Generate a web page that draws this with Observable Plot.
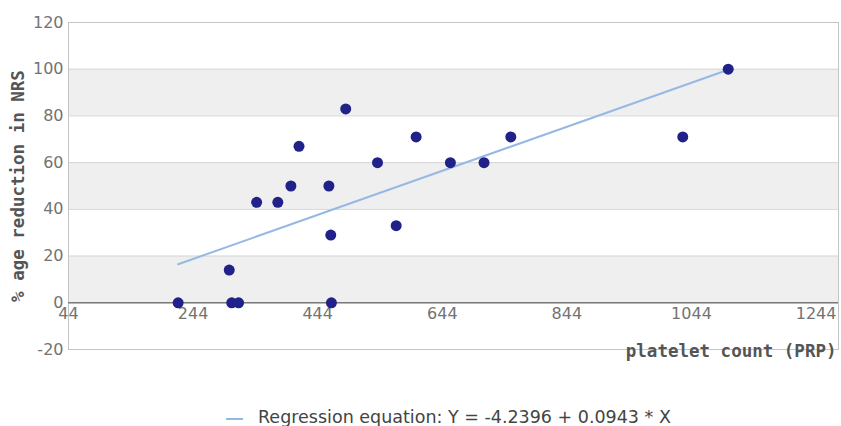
<!DOCTYPE html>
<html>
<head>
<meta charset="utf-8">
<script src="https://cdn.jsdelivr.net/npm/d3@7"></script>
<script src="https://cdn.jsdelivr.net/npm/@observablehq/plot@0.6"></script>
<style>
  html, body { margin: 0; padding: 0; background: #fff; }
  #chart svg { display: block; }
  #legend { height: 46px; box-sizing: border-box; padding-top: 27px; padding-left: 226px;
    font-family: "DejaVu Sans", sans-serif; font-size: 17.5px; color: #444; line-height: 20px; white-space: nowrap; }
  #legend .sw { display: inline-block; width: 17px; height: 2px; background: #96b9e4; vertical-align: middle; margin-right: 15px; position: relative; top: 1px; }
</style>
</head>
<body>
<div id="chart"></div>
<div id="legend"><span class="sw"></span><span id="legend-text"></span></div>
<script>
// Data
const plateletCount = [220, 302, 306, 317, 346, 380, 401, 414, 462, 465, 466, 489, 540, 570, 602, 657, 711, 754, 1030, 1103];
const nrsReduction  = [0, 14, 0, 0, 43, 43, 50, 67, 50, 29, 0, 83, 60, 33, 71, 60, 60, 71, 71, 100];
const intercept = -4.2396;
const slope = 0.0943;
const xTicks = [44, 244, 444, 644, 844, 1044, 1244];
const yTicks = [-20, 0, 20, 40, 60, 80, 100, 120];
const bandLow = [80, 40, 0];
const bandHigh = [100, 60, 20];
const xDomain = [44, 1280];
const yDomain = [-20, 120];
const xTitle = "platelet count (PRP)";
const yTitle = "% age reduction in NRS";
const legendLabel = "Regression equation: Y = -4.2396 + 0.0943 * X";

const points = plateletCount.map((x, i) => ({x, y: nrsReduction[i]}));
const xr = [d3.min(plateletCount), d3.max(plateletCount)];
const regLine = xr.map(x => ({x, y: intercept + slope * x}));
const bands = bandLow.map((lo, i) => ({y1: lo, y2: bandHigh[i], x1: xDomain[0], x2: xDomain[1]}));

const chart = Plot.plot({
  width: 841,
  height: 380,
  marginLeft: 68,
  marginRight: 3,
  marginTop: 22,
  marginBottom: 31,
  x: {domain: xDomain, axis: null},
  y: {domain: yDomain},
  style: {fontFamily: "DejaVu Sans, sans-serif", background: "white"},
  marks: [
    Plot.rect(bands, {x1: "x1", x2: "x2", y1: "y1", y2: "y2", fill: "#efefef"}),
    Plot.gridY(yTicks, {stroke: "#d6d6d6", strokeOpacity: 1}),
    Plot.frame({stroke: "#c4c4c4"}),
    Plot.ruleY([0], {stroke: "#7a7a7a", strokeWidth: 1.5}),
    Plot.axisY(yTicks, {tickSize: 0, tickPadding: 5, fontSize: 16, fill: "#737373", label: null, tickFormat: d => String(d)}),
    Plot.text(xTicks, {x: d => d, y: () => 0, dy: 11, text: d => String(d), fontSize: 16, fill: "#737373"}),
    Plot.line(regLine, {x: "x", y: "y", stroke: "#96b9e4", strokeWidth: 2}),
    Plot.dot(points, {x: "x", y: "y", r: 5.5, fill: "#21218a", stroke: "none"}),
    Plot.text([xTitle], {frameAnchor: "bottom-right", textAnchor: "end", dy: 7, dx: -2, fontFamily: "DejaVu Sans Mono, monospace", fontWeight: "bold", fontSize: 17.5, fill: "#555"}),
    Plot.text([yTitle], {frameAnchor: "left", textAnchor: "middle", dx: -50, rotate: -90, fontFamily: "DejaVu Sans Mono, monospace", fontWeight: "bold", fontSize: 17.5, fill: "#555"})
  ]
});
document.getElementById("chart").appendChild(chart);
document.getElementById("legend-text").textContent = legendLabel;
</script>
</body>
</html>
